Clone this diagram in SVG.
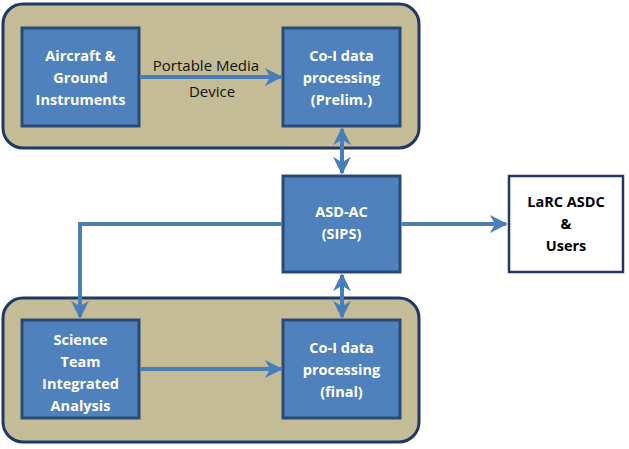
<svg xmlns="http://www.w3.org/2000/svg" width="629" height="449" viewBox="0 0 629 449">
<defs>
<marker id="ah" viewBox="0 0 10 10" refX="9" refY="5" markerWidth="4.5" markerHeight="4.5" orient="auto-start-reverse" markerUnits="strokeWidth">
<path d="M0,0 L10,5 L0,10 L3,5 Z" fill="#4a7ebb"/>
</marker>
</defs>
<style>
.cont{fill:#c4bc96;stroke:#1f3864;stroke-width:3}
.box{fill:#4f81bd;stroke:#2a4a75;stroke-width:3}
.wbox{fill:#ffffff;stroke:#1f3864;stroke-width:2.5}
.t{font-family:"Open Sans","Liberation Sans",sans-serif;font-weight:bold;font-size:14.5px;fill:#ffffff;text-anchor:middle}
.tb{font-family:"Open Sans","Liberation Sans",sans-serif;font-weight:bold;font-size:14.5px;fill:#000000;text-anchor:middle}
.lbl{font-family:"Open Sans","Liberation Sans",sans-serif;font-size:15px;fill:#111111;text-anchor:middle}
.c{fill:none;stroke:#4a7ebb;stroke-width:4}
</style>
<g id="top-container"><rect class="cont" x="3" y="4" width="416" height="144" rx="20"/></g>
<g id="bottom-container"><rect class="cont" x="3" y="298" width="416" height="144" rx="20"/></g>
<g id="aircraft"><rect class="box" x="22" y="28" width="117" height="98"/>
<text class="t" x="80.5" y="61">Aircraft &amp;</text><text class="t" x="80.5" y="83">Ground</text><text class="t" x="80.5" y="105">Instruments</text></g>
<g id="coi-prelim"><rect class="box" x="283" y="28" width="117" height="98"/>
<text class="t" x="341.5" y="61">Co-I data</text><text class="t" x="341.5" y="83">processing</text><text class="t" x="341.5" y="105">(Prelim.)</text></g>
<g id="asdac"><rect class="box" x="283" y="176" width="117" height="96"/>
<text class="t" x="341.5" y="217">ASD-AC</text><text class="t" x="341.5" y="239">(SIPS)</text></g>
<g id="larc"><rect class="wbox" x="509" y="176" width="114" height="96"/>
<text class="tb" x="566" y="207">LaRC ASDC</text><text class="tb" x="566" y="229">&amp;</text><text class="tb" x="566" y="251">Users</text></g>
<g id="science"><rect class="box" x="22" y="320" width="117" height="98"/>
<text class="t" x="80.5" y="345">Science</text><text class="t" x="80.5" y="367">Team</text><text class="t" x="80.5" y="389">Integrated</text><text class="t" x="80.5" y="411">Analysis</text></g>
<g id="coi-final"><rect class="box" x="283" y="320" width="117" height="98"/>
<text class="t" x="341.5" y="353">Co-I data</text><text class="t" x="341.5" y="375">processing</text><text class="t" x="341.5" y="397">(final)</text></g>
<g id="connectors">
<line class="c" x1="140.5" y1="77" x2="281" y2="77" marker-end="url(#ah)"/>
<text class="lbl" x="206" y="71">Portable Media</text>
<text class="lbl" x="212" y="97">Device</text>
<line class="c" x1="342" y1="129" x2="342" y2="173" marker-start="url(#ah)" marker-end="url(#ah)"/>
<line class="c" x1="342" y1="275" x2="342" y2="317" marker-start="url(#ah)" marker-end="url(#ah)"/>
<line class="c" x1="401.5" y1="224" x2="506" y2="224" marker-end="url(#ah)"/>
<polyline class="c" points="281.5,224 80,224 80,317" marker-end="url(#ah)"/>
<line class="c" x1="140.5" y1="369" x2="281" y2="369" marker-end="url(#ah)"/>
</g>
</svg>
